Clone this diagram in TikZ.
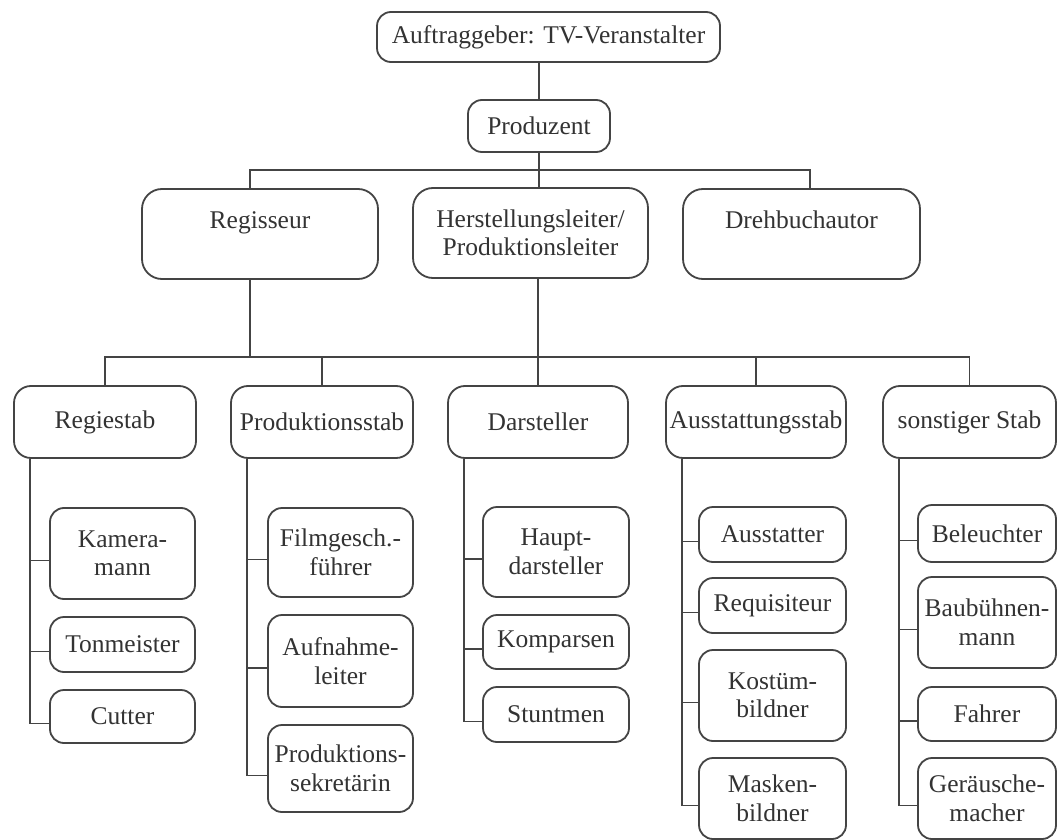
\documentclass[tikz,border=0pt]{standalone}
\usepackage{fontspec}
\setmainfont{Liberation Serif}
\definecolor{lc}{HTML}{444444}
\definecolor{tc}{HTML}{333333}
\begin{document}
\begin{tikzpicture}[x=1pt,y=-1pt,
  box/.style={draw=lc, line width=1.8pt, align=center, inner sep=0pt, text=tc,
    font=\fontsize{25.5}{28.5}\selectfont},
  big/.style={box, rounded corners=20pt, minimum height=90pt},
  mid/.style={box, rounded corners=17pt, minimum height=72pt},
  sml/.style={box, rounded corners=14pt},
  conn/.style={draw=lc, line width=1.9pt}]
\useasboundingbox[fill=white] (0,0) rectangle (1058,840);

% level 0/1
\node[sml, minimum width=343pt, minimum height=50pt] (auf) at (548.5,37) {Auftraggeber: TV-Veranstalter};
\node[sml, minimum width=142pt, minimum height=52pt] (prod) at (539,126) {Produzent};
% level 2
\node[big, minimum width=236pt] (reg) at (260,234) {Regisseur\\\mbox{}};
\node[big, minimum width=235pt] (hl) at (530.5,233) {Herstellungsleiter/\\Produktionsleiter};
\node[big, minimum width=237pt] (dreh) at (801.5,234) {Drehbuchautor\\\mbox{}};
% level 3
\node[mid, minimum width=182pt] (rs) at (105,422) {Regiestab};
\node[mid, minimum width=182pt] (ps) at (322,422) {Produktionsstab};
\node[mid, minimum width=180pt] (ds) at (538,422) {Darsteller};
\node[mid, minimum width=180pt] (as) at (756,422) {Ausstattungsstab};
\node[mid, minimum width=173pt] (ss) at (969.5,422) {sonstiger Stab};
% level 4
\node[sml, minimum width=145pt, minimum height=91pt] (kam) at (122.5,553.5) {Kamera-\\mann};
\node[sml, minimum width=145pt, minimum height=55pt] (ton) at (122.5,644.5) {Tonmeister};
\node[sml, minimum width=145pt, minimum height=53pt] (cut) at (122.5,716.5) {Cutter};
\node[sml, minimum width=145pt, minimum height=89pt] (film) at (340.5,552.5) {Filmgesch.-\\führer};
\node[sml, minimum width=145pt, minimum height=92pt] (aufn) at (340.5,661) {Aufnahme-\\leiter};
\node[sml, minimum width=145pt, minimum height=87pt] (sekr) at (340.5,768.5) {Produktions-\\sekretärin};
\node[sml, minimum width=146pt, minimum height=90pt] (haupt) at (556,552) {Haupt-\\darsteller};
\node[sml, minimum width=146pt, minimum height=54pt] (komp) at (556,642) {Komparsen};
\node[sml, minimum width=146pt, minimum height=55pt] (stunt) at (556,714.5) {Stuntmen};
\node[sml, minimum width=147pt, minimum height=55pt] (ausst) at (772.5,534.5) {Ausstatter};
\node[sml, minimum width=147pt, minimum height=55pt] (requ) at (772.5,605.5) {Requisiteur};
\node[sml, minimum width=147pt, minimum height=91pt] (kost) at (772.5,695.5) {Kostüm-\\bildner};
\node[sml, minimum width=147pt, minimum height=81pt] (mask) at (772.5,798.5) {Masken-\\bildner};
\node[sml, minimum width=138pt, minimum height=57pt] (bel) at (987,533.5) {Beleuchter};
\node[sml, minimum width=138pt, minimum height=91pt] (baub) at (987,622.5) {Baubühnen-\\mann};
\node[sml, minimum width=138pt, minimum height=54pt] (fahr) at (987,714) {Fahrer};
\node[sml, minimum width=138pt, minimum height=81pt] (ger) at (987,798.5) {Geräusche-\\macher};

% junction coordinates
\coordinate (rj) at (250,170);
\coordinate (dj) at (810,170);
\coordinate (b2) at (0,357);

% upper connectors
\draw[conn] (auf.south -| prod.north) -- (prod.north);
\draw[conn] (prod.south) -- (prod.south |- hl.north);
\draw[conn] (rj |- reg.north) -- (rj) -- (dj) -- (dj |- dreh.north);
\draw[conn] (rj |- reg.south) -- (rj |- b2);
\draw[conn] (ds.north |- hl.south) -- (ds.north);
\draw[conn] (rs.north) -- (rs.north |- b2) -- (ss.north |- b2) -- (ss.north);
\draw[conn] (ps.north) -- (ps.north |- b2);
\draw[conn] (as.north) -- (as.north |- b2);

% child trees
\foreach \p/\l/\kids in {rs/cut/{kam,ton,cut}, ps/sekr/{film,aufn,sekr},
    ds/stunt/{haupt,komp,stunt}, as/mask/{ausst,requ,kost,mask},
    ss/ger/{bel,baub,fahr,ger}}{
  \coordinate (\p-t) at ([xshift=17pt]\p.south west);
  \foreach \c in \kids {
    \coordinate (\c-c) at ([yshift=-7pt]\c.west);
    \draw[conn] (\c-c) -- (\c-c -| \p-t);
  }
  \draw[conn] (\p-t) -- (\p-t |- \l-c);
}
\end{tikzpicture}
\end{document}
